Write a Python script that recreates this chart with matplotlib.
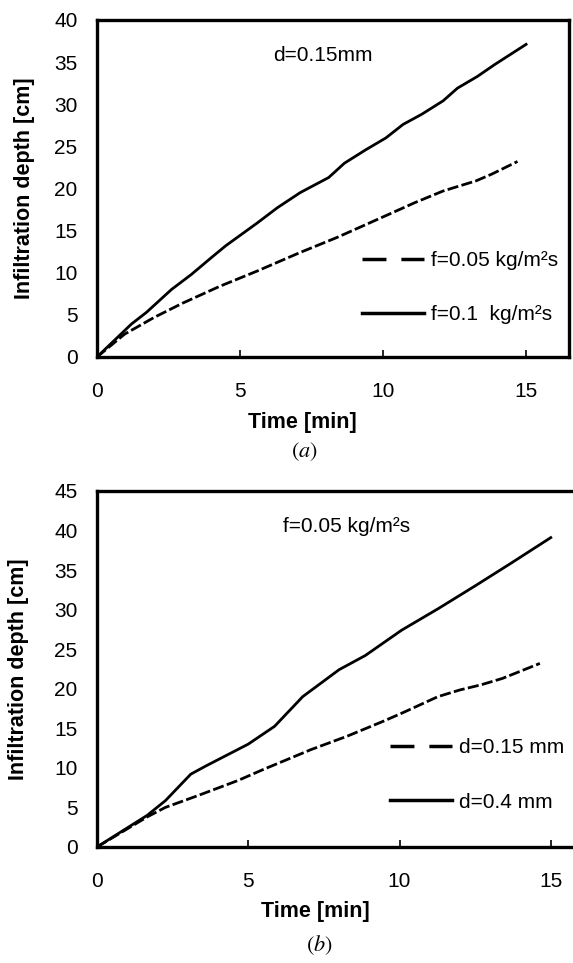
import numpy as np
import matplotlib
matplotlib.use("Agg")
import matplotlib.pyplot as plt
from matplotlib.lines import Line2D

plt.rcParams['font.family'] = ['Liberation Sans', 'DejaVu Sans']
plt.rcParams['mathtext.fontset'] = 'stix'

# panel (a): d = 0.15 mm
t_a_fast = [0, 1.2, 1.73, 2.6, 3.3, 4.0, 4.5, 5.6, 6.3, 7.1, 8.1, 8.65, 9.4, 10.1, 10.7, 11.35, 12.1, 12.6, 13.3, 13.9, 15]
d_a_fast = [0, 3.9, 5.3, 8.0, 9.8, 11.8, 13.2, 15.9, 17.7, 19.5, 21.3, 23.0, 24.6, 26.0, 27.6, 28.8, 30.4, 31.9, 33.3, 34.7, 37.1]
t_a_slow = [0, 0.96, 2.0, 3.0, 4.3, 5.6, 7.1, 8.4, 10.05, 11.1, 12.1, 13.25, 13.8, 14.7]
d_a_slow = [0, 2.7, 4.7, 6.4, 8.4, 10.2, 12.4, 14.2, 16.7, 18.3, 19.7, 20.9, 21.7, 23.2]

# panel (b): f = 0.05 kg/m2s
t_b_coarse = [0, 1.66, 2.26, 3.1, 3.58, 5.0, 5.87, 6.8, 8.0, 8.87, 10.07, 11.27, 12.5, 13.7, 15]
d_b_coarse = [0, 4.0, 5.85, 9.2, 10.2, 13.0, 15.25, 19.0, 22.4, 24.2, 27.4, 30.1, 33.0, 35.9, 39.1]
t_b_fine = [0, 1.66, 2.26, 3.34, 4.66, 5.5, 7.07, 8.27, 9.47, 10.07, 11.27, 12.0, 12.7, 13.4, 14.64]
d_b_fine = [0, 3.8, 5.0, 6.5, 8.4, 9.8, 12.3, 14.0, 15.9, 16.9, 19.0, 19.85, 20.5, 21.3, 23.2]

LW = 2.0
SHORT_DASH = (4, 1.2)
LONG_DASH = (6.9, 4.3)


def style_axes(ax, ylim, yticks, xlim, ylab_x, xlab_xy):
    ax.set_xlim(xlim)
    ax.set_ylim(ylim)
    ax.set_xticks([0, 5, 10, 15])
    ax.set_yticks(yticks)
    for s in ax.spines.values():
        s.set_linewidth(2.4)
    ax.tick_params(axis='x', direction='in', length=5, width=1.2, labelsize=15, pad=18)
    ax.tick_params(axis='y', length=0, labelsize=15, pad=14)
    ax.set_xlabel("Time [min]", fontsize=15.5, fontweight='bold')
    ax.set_ylabel("Infiltration depth [cm]", fontsize=15.5, fontweight='bold')
    ax.yaxis.set_label_coords(ylab_x, 0.5)
    ax.xaxis.set_label_coords(*xlab_xy)


def legend_handles():
    h1 = Line2D([], [], color='black', lw=2.5, dashes=LONG_DASH)
    h2 = Line2D([], [], color='black', lw=2.5)
    return h1, h2


fig = plt.figure(figsize=(5.73, 9.63), dpi=100)

# (a)
ax1 = fig.add_axes([0.1693, 0.6293, 0.8237, 0.35])
ax1.plot(t_a_slow, d_a_slow, color='black', lw=LW, dashes=SHORT_DASH)
ax1.plot(t_a_fast, d_a_fast, color='black', lw=LW)
style_axes(ax1, (0, 40), range(0, 41, 5), (0, 16.5), -0.131, (0.436, -0.163))
ax1.text(0.478, 0.895, "d=0.15mm", transform=ax1.transAxes, fontsize=15, ha='center', va='center')
h1, h2 = legend_handles()
ax1.legend([h1, h2], ["f=0.05 kg/m²s", "f=0.1  kg/m²s"], loc='upper left',
           bbox_to_anchor=(0.561, 0.315), frameon=False, fontsize=15,
           handlelength=3.0, handletextpad=0.3, labelspacing=1.7,
           borderpad=0, borderaxespad=0)

# (b)
ax2 = fig.add_axes([0.1693, 0.1205, 0.8447, 0.3697])
ax2.plot(t_b_fine, d_b_fine, color='black', lw=LW, dashes=SHORT_DASH)
ax2.plot(t_b_coarse, d_b_coarse, color='black', lw=LW)
style_axes(ax2, (0, 45), range(0, 46, 5), (0, 16), -0.14, (0.452, -0.152))
ax2.text(0.516, 0.9, "f=0.05 kg/m²s", transform=ax2.transAxes, fontsize=15, ha='center', va='center')
h1, h2 = legend_handles()
ax2.legend([h1, h2], ["d=0.15 mm", "d=0.4 mm"], loc='upper left',
           bbox_to_anchor=(0.605, 0.305), frameon=False, fontsize=15,
           handlelength=3.0, handletextpad=0.3, labelspacing=1.7,
           borderpad=0, borderaxespad=0)

fig.text(0.5305, 0.5306, r'$\mathrm{(}\mathit{a}\mathrm{)}$', fontsize=16, ha='center', va='center')
fig.text(0.557, 0.0187, r'$\mathrm{(}\mathit{b}\mathrm{)}$', fontsize=16, ha='center', va='center')

fig.savefig("out.png", dpi=100)
